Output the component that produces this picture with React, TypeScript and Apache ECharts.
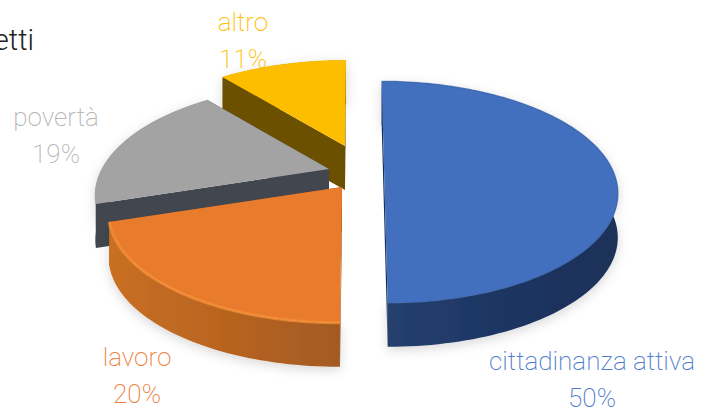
import React, { useEffect, useRef } from "react";
import * as echarts from "echarts";

const categories = ["cittadinanza attiva", "lavoro", "povertà", "altro"];
const shares = [50, 20, 19, 11];
const titleFragment = "etti";

// Painter's order: back slices first.
const drawOrder = [0, 3, 2, 1];

const topColors = ["#4270BE", "#E97B2C", "#A3A3A3", "#FDBE00"];
const labelColors = ["#4F7CCB", "#EE8240", "#B6B6B6", "#FFC000"];
const wallStops = [
  ["#26416F", "#1C3562", "#1B3058"],
  ["#C96F24", "#B8641F", "#A35A22"],
  ["#3F4650", "#444A52", "#3D4450"],
  ["#664C00", "#6B5000", "#665000"],
];
const chordColors = ["#17305C", "#A85C20", "#41464F", "#6B5000"];
const rimColors = ["#3C67B0", "#F59038", "#A8A8A8", "#FFC600"];
const rimWidths = [1.5, 3, 1, 1];

const center = [350, 167];
const explode = [[34, 0], [-8, 20], [-21, 2], [-5, -21]];
const labelPos = [[592, 361], [137, 357], [56, 117], [243, 22]];
const LINE_GAP = 36.5;
const RX = 227, RY = 105, PERSP = 0.227, DEPTH = 44, VP_X = 357, SKEW = 0.001;

const total = shares.reduce((a, b) => a + b, 0);

function sliceAngles(i: number) {
  const before = shares.slice(0, i).reduce((a, b) => a + b, 0);
  return [(before / total) * Math.PI * 2, ((before + shares[i]) / total) * Math.PI * 2];
}

function project(i: number, theta: number, r = 1) {
  const ax = center[0] + explode[i][0];
  const ay = center[1] + explode[i][1];
  const u = Math.sin(theta) * r;
  const v = Math.cos(theta) * r;
  const w = 1 + PERSP * v;
  const dy = (-RY * v) / w;
  const dx = (RX * u) / w + (ax - VP_X) * SKEW * dy;
  return [ax + dx, ay + dy];
}

function renderSlice(_: any, api: any) {
  const i = api.value(0) as number;
  const [a0, a1] = sliceAngles(i);
  const steps = Math.max(8, Math.round((a1 - a0) * 40));
  const arc: number[][] = [];
  for (let s = 0; s <= steps; s++) arc.push(project(i, a0 + ((a1 - a0) * s) / steps));
  const apex = project(i, 0, 0);
  const mid = arc[Math.floor(arc.length / 2)];
  const down = (p: number[]) => [p[0], p[1] + DEPTH];
  const xs = arc.map((p) => p[0]);
  const stops = wallStops[i];

  const chord = (corner: number[]) => ({
    type: "polygon",
    shape: { points: [apex, corner, down(corner), down(apex)] },
    style: { fill: chordColors[i] },
  });
  // A cut wall is seen only when the slice's top lies above it on screen.
  const facesViewer = (corner: number[]) => {
    const dx = corner[0] - apex[0];
    if (Math.abs(dx) < 20) return false;
    const lineY = apex[1] + ((mid[0] - apex[0]) / dx) * (corner[1] - apex[1]);
    return mid[1] < lineY;
  };
  const corners = [arc[0], arc[arc.length - 1]];

  const children: any[] = [];
  corners.filter((c) => !facesViewer(c)).forEach((c) => children.push(chord(c)));
  children.push({
    type: "polygon",
    shape: { points: [...arc, ...arc.slice().reverse().map(down)] },
    style: {
      fill: {
        type: "linear",
        x: Math.min(...xs),
        y: 0,
        x2: Math.max(...xs),
        y2: 0,
        global: true,
        colorStops: [
          { offset: 0, color: stops[0] },
          { offset: 0.5, color: stops[1] },
          { offset: 1, color: stops[2] },
        ],
      },
      shadowBlur: 12,
      shadowColor: "rgba(0,0,0,0.16)",
      shadowOffsetY: 3,
    },
  });
  corners.filter((c) => facesViewer(c)).forEach((c) => children.push(chord(c)));
  children.push({
    type: "polygon",
    shape: { points: [apex, ...arc] },
    style: { fill: topColors[i] },
  });
  children.push({
    type: "polyline",
    shape: { points: arc },
    style: { fill: "none", stroke: rimColors[i], lineWidth: rimWidths[i], opacity: 0.75 },
  });
  const [lx, ly] = labelPos[i];
  const font = "200 26px Roboto";
  children.push({
    type: "text",
    style: { text: categories[i], x: lx, y: ly, fill: labelColors[i], font, align: "center", verticalAlign: "middle" },
  });
  children.push({
    type: "text",
    style: { text: shares[i] + "%", x: lx, y: ly + LINE_GAP, fill: labelColors[i], font, align: "center", verticalAlign: "middle" },
  });
  return { type: "group", children };
}

export default function App() {
  const ref = useRef<HTMLDivElement>(null);
  useEffect(() => {
    const chart = echarts.init(ref.current!, null, { renderer: "svg" });
    chart.setOption({
      animation: false,
      backgroundColor: "#ffffff",
      graphic: [
        {
          type: "text",
          x: 34,
          y: 40,
          style: { text: titleFragment, fill: "#222222", font: "300 29px Roboto", align: "right", verticalAlign: "middle" },
        },
      ],
      series: [
        {
          type: "custom",
          coordinateSystem: "none",
          silent: true,
          renderItem: renderSlice,
          data: drawOrder.map((i) => [i]),
          dimensions: ["slice"],
          encode: { value: 0 },
        },
      ],
    });
    return () => chart.dispose();
  }, []);
  return <div ref={ref} style={{ position: "absolute", left: 0, top: 0, width: 713, height: 412 }} />;
}
